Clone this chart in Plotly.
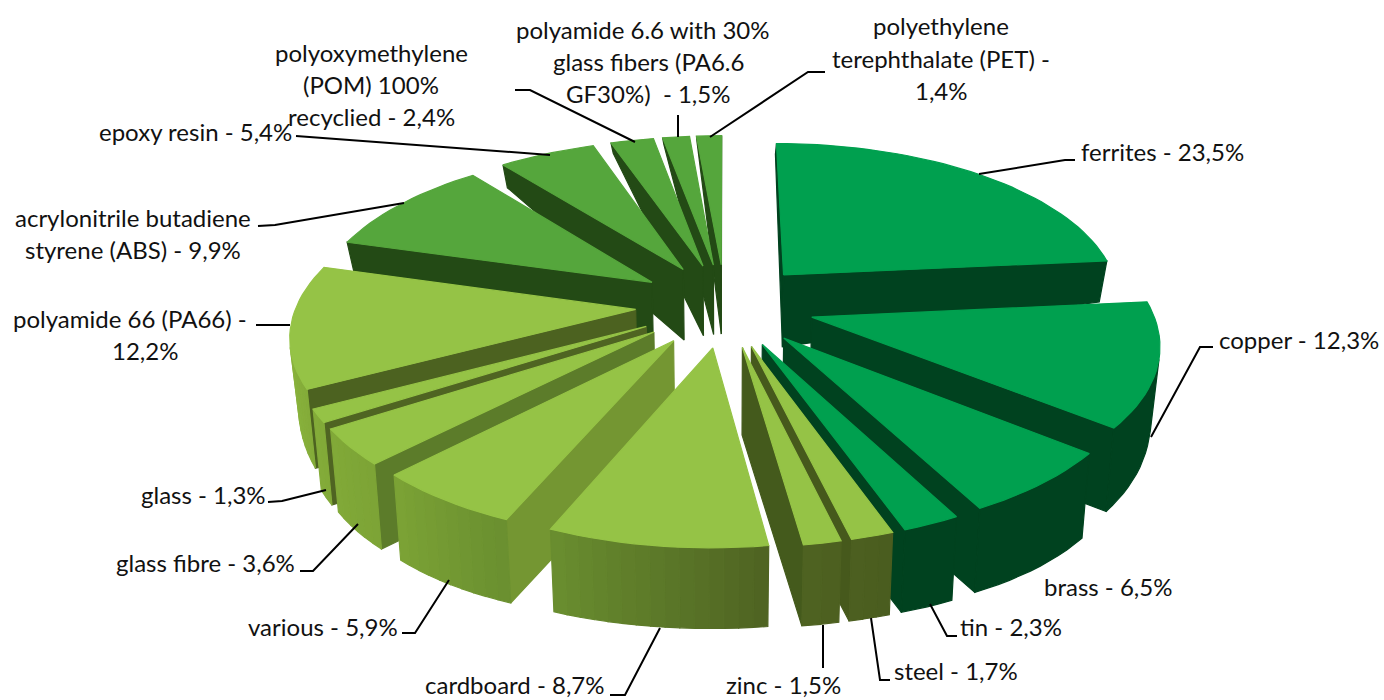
import numpy as np
import plotly.graph_objects as go

# ---------- data ----------
materials = ["ferrites", "copper", "brass", "tin", "steel", "zinc", "cardboard", "various",
             "glass fibre", "glass", "polyamide 66 (PA66)", "acrylonitrile butadiene styrene (ABS)",
             "epoxy resin", "polyoxymethylene (POM) 100% recyclied",
             "polyamide 6.6 with 30% glass fibers (PA6.6 GF30%)", "polyethylene terephthalate (PET)"]
shares = [23.5, 12.3, 6.5, 2.3, 1.7, 1.5, 8.7, 5.9, 3.6, 1.3, 12.2, 9.9, 5.4, 2.4, 1.5, 1.4]

# ---------- colour groups ----------
groups = ["g", "g", "g", "g", "o", "o", "o", "o", "o", "o", "o", "m", "m", "m", "m", "m"]
top_col = {"g": "#00A04F", "o": "#95C346", "m": "#55A63C"}
radial_col = {"ferrites": "#00421F", "copper": "#00421F", "brass": "#00421F", "tin": "#00421F",
              "steel": "#46591C", "zinc": "#445A1C", "cardboard": "#46591C", "various": "#749632",
              "glass fibre": "#5C7C2A", "glass": "#4F6422", "polyamide 66 (PA66)": "#4C6220"}
olive_stops = [(150, (0x45, 0x58, 0x1C)), (172, (0x4F, 0x63, 0x22)), (203, (0x6A, 0x8F, 0x30)),
               (225, (0x7D, 0xA4, 0x36)), (262, (0x8C, 0xB6, 0x3E))]

# ---------- projection ----------
CX, CY = 725.0, 305.0
A, B = 339.0, 158.0
K = 0.142
EXPLODE = 0.264
BOT_CY, BOT_B, BOT_X = 385.0, 193.0, 0.98
SADDLE_Y, SADDLE_C = [-1.1, -0.4, 0.5, 1.3], [0.0, 21.0, 9.5, 5.0]


def project(X, Y, wall=False):
    s = 1.0 / (1.0 - K * Y)
    if wall:
        return CX + BOT_X * A * X * s, BOT_CY + BOT_B * Y - np.interp(Y, SADDLE_Y, SADDLE_C) * X * X
    return CX + A * X * s, CY + B * Y * s


def arc_colour(group, deg):
    if group == "g":
        return "#00421F"
    if group == "m":
        return "#234A15"
    ds = [p[0] for p in olive_stops]
    rgb = [np.interp(deg, ds, [p[1][i] for p in olive_stops]) for i in range(3)]
    return "rgb(%d,%d,%d)" % tuple(int(v) for v in rgb)


fig = go.Figure()


def poly(xs, ys, colour, name=None):
    xs, ys = list(xs), list(ys)
    fig.add_trace(go.Scatter(x=xs + [xs[0]], y=ys + [ys[0]], mode="lines", fill="toself",
                             fillcolor=colour, line=dict(color=colour, width=1.2),
                             hoverinfo="text" if name else "skip", text=name, showlegend=False))


def area(xs, ys):
    return 0.5 * sum(xs[i] * ys[(i + 1) % len(xs)] - xs[(i + 1) % len(xs)] * ys[i] for i in range(len(xs)))


total = sum(shares)
bounds = np.cumsum([0] + shares) / total * 360.0
order = sorted(range(len(shares)), key=lambda i: -np.cos(np.radians((bounds[i] + bounds[i + 1]) / 2)))

for i in order:
    t0, t1 = bounds[i], bounds[i + 1]
    mid = np.radians((t0 + t1) / 2)
    ax, ay = EXPLODE * np.sin(mid), -EXPLODE * np.cos(mid)
    g = groups[i]
    n = max(2, int((t1 - t0) / 2))
    th = np.radians(np.linspace(t0, t1, n + 1))
    X = ax + np.sin(th)
    Y = ay - np.cos(th)
    rc = radial_col.get(materials[i], "#234A15")
    # radial walls
    for ex, ey, sign in ((X[0], Y[0], 1), (X[-1], Y[-1], -1)):
        p = [project(ax, ay), project(ex, ey), project(ex, ey, True), project(ax, ay, True)]
        xs, ys = zip(*p)
        if sign * area(xs, ys) > 0:
            continue
        poly(xs, ys, rc)
    # outer wall
    visible = []
    for j in range(n):
        p = [project(X[j], Y[j]), project(X[j + 1], Y[j + 1]),
             project(X[j + 1], Y[j + 1], True), project(X[j], Y[j], True)]
        xs, ys = zip(*p)
        if area(xs, ys) < 0:
            visible.append(j)
            if g == "o":
                poly(xs, ys, arc_colour(g, np.degrees((th[j] + th[j + 1]) / 2)))
    if g != "o" and visible:
        idx = list(range(visible[0], visible[-1] + 2))
        tx, ty = project(X[idx], Y[idx])
        pts = [project(X[k], Y[k], True) for k in idx]
        bx, by = zip(*pts)
        poly(list(tx) + list(bx[::-1]), list(ty) + list(by[::-1]), arc_colour(g, 0))
    # top face
    sx, sy = project(np.r_[ax, X], np.r_[ay, Y])
    poly(sx, sy, top_col[g], "%s - %s%%" % (materials[i], str(shares[i]).replace(".", ",")))

# ---------- leader lines ----------
leaders = [
    [(979, 174), (1065, 160), (1075, 160)],
    [(1151, 437), (1200, 347), (1213, 347)],
    [(930, 604), (947, 636), (957, 636)],
    [(871, 618), (880, 680), (890, 680)],
    [(823, 625), (823, 668)],
    [(660, 628), (625, 695), (610, 695)],
    [(449, 580), (415, 633), (402, 633)],
    [(358, 524), (313, 571), (300, 571)],
    [(326, 490), (282, 501), (268, 502)],
    [(290, 325), (256, 325)],
    [(404, 203), (275, 225), (258, 226)],
    [(550, 155), (300, 136), (296, 136)],
    [(635, 142), (530, 90), (515, 90)],
    [(678, 137), (678, 115)],
    [(710, 137), (808, 72), (825, 72)],
]
for pts in leaders:
    xs, ys = zip(*pts)
    fig.add_trace(go.Scatter(x=xs, y=ys, mode="lines", line=dict(color="black", width=2),
                             hoverinfo="skip", showlegend=False))

# ---------- label text ----------
label_lines = [
    ("ferrites - 23,5%", 1162, 151), ("copper - 12,3%", 1299, 339), ("brass - 6,5%", 1108, 586),
    ("tin - 2,3%", 1011, 626), ("steel - 1,7%", 956, 670), ("zinc - 1,5%", 783, 684),
    ("cardboard - 8,7%", 515, 684), ("various - 5,9%", 323, 626), ("glass fibre - 3,6%", 205, 562),
    ("glass - 1,3%", 203, 494), ("polyamide 66 (PA66) -", 130, 318), ("12,2%", 145, 350),
    ("acrylonitrile butadiene", 133, 217), ("styrene (ABS) - 9,9%", 133, 249),
    ("epoxy resin - 5,4%", 195, 131), ("polyoxymethylene", 371, 52), ("(POM) 100%", 371, 84),
    ("recyclied - 2,4%", 371, 116), ("polyamide 6.6 with 30%", 643, 29), ("glass fibers (PA6.6", 648, 61),
    ("GF30%)  - 1,5%", 648, 93), ("polyethylene", 941, 25), ("terephthalate (PET) -", 941, 58), ("1,4%", 941, 90),
]
for txt, x, y in label_lines:
    fig.add_annotation(x=x, y=y, text=txt, showarrow=False, xanchor="center", yanchor="middle",
                       font=dict(family="Lato, Carlito, sans-serif", size=24, color="#111111"))

fig.update_layout(width=1384, height=700, margin=dict(l=0, r=0, t=0, b=0),
                  paper_bgcolor="white", plot_bgcolor="white", showlegend=False,
                  xaxis=dict(range=[0, 1384], visible=False, fixedrange=True),
                  yaxis=dict(range=[700, 0], visible=False, fixedrange=True))
fig.write_html("out.html", post_script="document.body.style.margin='0';document.body.style.overflow='hidden';",
               config={"displayModeBar": False})
